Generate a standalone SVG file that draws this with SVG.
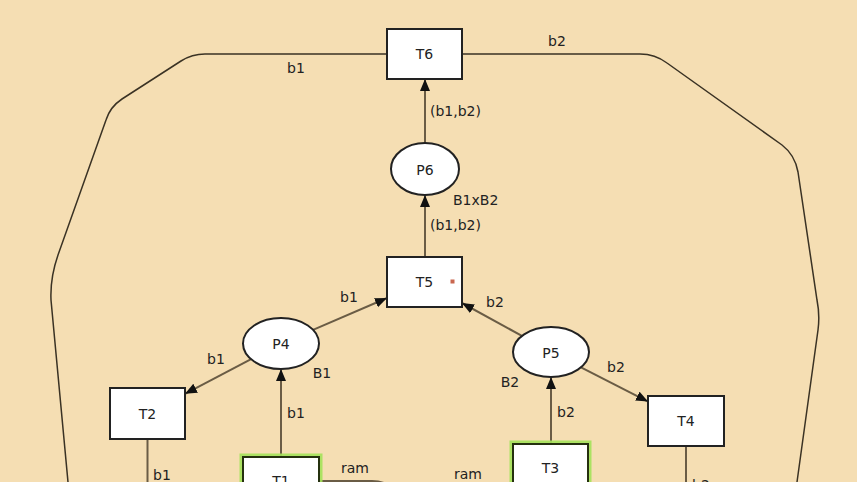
<svg xmlns="http://www.w3.org/2000/svg" width="857" height="482" viewBox="0 0 857 482">
<style>
text{font-family:"DejaVu Sans","Liberation Sans",sans-serif;font-size:14px;fill:#222}
.lbl{text-anchor:middle}
.st{text-anchor:start}
.arc{fill:none;stroke:#6a5c45;stroke-width:2}
.outer{fill:none;stroke:#3a3224;stroke-width:1.5}
.tr{fill:#fff;stroke:#222;stroke-width:2}
.pl{fill:#fff;stroke:#222;stroke-width:2}
.glow{fill:none;stroke:#a4e25a;stroke-width:7;stroke-opacity:0.9}
.gb{fill:#fff;stroke:#25310f;stroke-width:2}
</style>
<defs>
<marker id="ah" markerUnits="userSpaceOnUse" markerWidth="13" markerHeight="11" refX="12" refY="5" orient="auto">
<path d="M0,0 L12,5 L0,10 z" fill="#111"/>
</marker>
</defs>
<rect x="0" y="0" width="857" height="482" fill="#F5DEB3"/>
<g id="connectors">
<path class="outer" d="M387,54 L205,54 Q192,54 181,61 L122,99 Q110,107 106,120 L58,255 Q50,278 51,300 L68,482"/>
<path class="outer" d="M462,54 L640,54 Q655,54 667,63 L782,145 Q795,155 798,172 L817,300 Q820,315 818,330 L797,482"/>
<line class="arc" x1="425" y1="143" x2="425" y2="79" marker-end="url(#ah)"/>
<line class="arc" x1="425" y1="257" x2="425" y2="195" marker-end="url(#ah)"/>
<line class="arc" x1="313" y1="329.8" x2="387" y2="298" marker-end="url(#ah)"/>
<line class="arc" x1="521.9" y1="335.9" x2="462" y2="303" marker-end="url(#ah)"/>
<line class="arc" x1="251.1" y1="359.2" x2="185" y2="393.8" marker-end="url(#ah)"/>
<line class="arc" x1="581" y1="367.3" x2="648" y2="401.6" marker-end="url(#ah)"/>
<line class="arc" x1="281" y1="457" x2="281" y2="369" marker-end="url(#ah)"/>
<line class="arc" x1="551" y1="444" x2="551" y2="377" marker-end="url(#ah)"/>
<line class="arc" x1="147.5" y1="439" x2="147.5" y2="482"/>
<line class="arc" x1="686" y1="446" x2="686" y2="482"/>
<path class="arc" d="M319,481 L372,481 Q386,481 394,490"/>
<text class="lbl" x="296" y="73">b1</text>
<text class="lbl" x="557" y="46">b2</text>
<text class="st" x="430" y="116">(b1,b2)</text>
<text class="st" x="453" y="205">B1xB2</text>
<text class="st" x="430" y="230">(b1,b2)</text>
<text class="lbl" x="349" y="302">b1</text>
<text class="lbl" x="495" y="307">b2</text>
<text class="lbl" x="216" y="364">b1</text>
<text class="lbl" x="322" y="378">B1</text>
<text class="lbl" x="296" y="418">b1</text>
<text class="lbl" x="616" y="372">b2</text>
<text class="lbl" x="510" y="387">B2</text>
<text class="lbl" x="566" y="417">b2</text>
<text class="lbl" x="162" y="480">b1</text>
<text class="lbl" x="701" y="490">b2</text>
<text class="lbl" x="355" y="473">ram</text>
<text class="lbl" x="468" y="479">ram</text>
</g>
<g id="T6"><rect class="tr" x="387" y="29" width="75" height="50"/><text class="lbl" x="424.5" y="58.5">T6</text></g>
<g id="P6"><ellipse class="pl" cx="425" cy="169" rx="34" ry="26"/><text class="lbl" x="425" y="175">P6</text></g>
<g id="T5"><rect class="tr" x="387" y="257" width="75" height="50"/><text class="lbl" x="424.5" y="286.5">T5</text><rect x="450.5" y="279.5" width="4" height="4" fill="#c9674f"/></g>
<g id="P4"><ellipse class="pl" cx="281" cy="343.5" rx="38" ry="25.5"/><text class="lbl" x="281" y="349">P4</text></g>
<g id="P5"><ellipse class="pl" cx="551" cy="352" rx="38" ry="25"/><text class="lbl" x="551" y="357.5">P5</text></g>
<g id="T2"><rect class="tr" x="110" y="388" width="75" height="51"/><text class="lbl" x="147.5" y="419">T2</text></g>
<g id="T4"><rect class="tr" x="648" y="396" width="76" height="50"/><text class="lbl" x="686" y="426">T4</text></g>
<g id="T1"><rect class="glow" x="243" y="457" width="76" height="50"/><rect class="gb" x="243" y="457" width="76" height="50"/><text class="lbl" x="281" y="486">T1</text></g>
<g id="T3"><rect class="glow" x="513" y="444" width="75" height="50"/><rect class="gb" x="513" y="444" width="75" height="50"/><text class="lbl" x="550.5" y="473">T3</text></g>
</svg>
